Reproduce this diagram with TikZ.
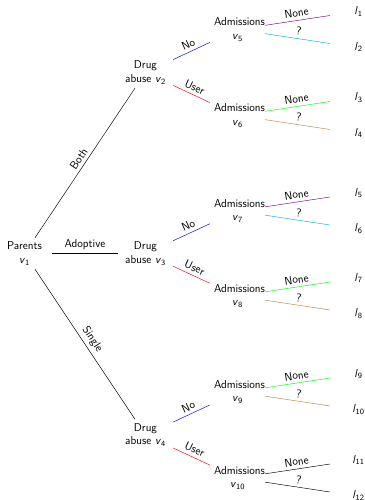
\documentclass[tikz,border=0pt]{standalone}
\newcommand{\vsub}[1]{\textit{v}\textsubscript{#1}}
\newcommand{\lsub}[1]{\textit{l}\textsubscript{#1}}
\begin{document}
\begin{tikzpicture}[x=1pt,y=-1pt,line join=round,line cap=round,line width=0.46pt,
	font=\sffamily\fontsize{11.4}{13.7}\selectfont,
	dec/.style={align=center,text width=47pt,inner sep=4pt},
	lab/.style={midway,above,sloped,text=black}]
	\useasboundingbox (0,0) rectangle (364,500);
	% decision nodes
	\node[dec] (v1) at (24.5,253.5) {Parents\\\vsub{1}};
	\foreach \k/\y in {2/72.5,3/253.5,4/435}
	\node[dec] (v\k) at (145.5,\y) {Drug\\abuse \vsub{\k}};
	\foreach \k/\y in {5/29.5,6/115.5,7/211,8/296,9/392,10/478}
	\node[dec] (v\k) at (237.5,\y) {Admissions\\\vsub{\k}};
	% first level
	\draw (v1) -- (v2) node[lab]{Both};
	\draw (v1) -- (v3) node[midway,above]{Adoptive};
	\draw (v1) -- (v4) node[lab]{Single};
	% second level
	\foreach \p/\a/\b in {2/5/6,3/7/8,4/9/10}{
		\draw[blue] (v\p) -- (v\a) node[lab]{No};
		\draw[red] (v\p) -- (v\b) node[lab]{User};
	}
	% leaves
	\foreach \k/\a/\b/\ca/\cb in {5/1/2/violet/cyan,6/3/4/green/brown,7/5/6/violet/cyan,
		8/7/8/green/brown,9/9/10/green/brown,10/11/12/black/black}{
		\coordinate (e\a) at ([shift={(92.5,-14)}]v\k.center);
		\coordinate (e\b) at ([shift={(92.5,14)}]v\k.center);
		\draw[\ca] (v\k) -- (e\a) node[lab]{None};
		\draw[\cb] (v\k) -- (e\b) node[lab]{?};
		\node (l\a) at ([shift={(28.5,-4)}]e\a) {\lsub{\a}};
		\node (l\b) at ([shift={(28.5,3.5)}]e\b) {\lsub{\b}};
	}
\end{tikzpicture}
\end{document}
